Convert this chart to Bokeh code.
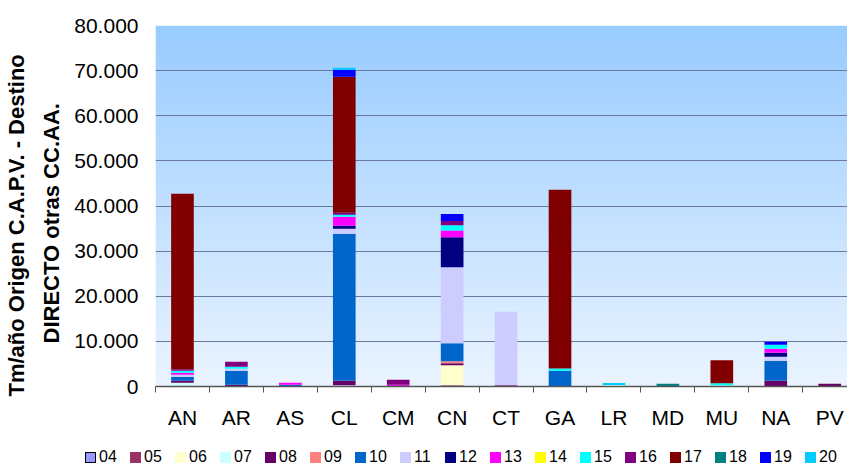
import numpy as np
from bokeh.plotting import figure
from bokeh.layouts import column
from bokeh.models import Range1d, FixedTicker, Title, ColumnDataSource, Div
from bokeh.embed import file_html
from bokeh.resources import INLINE

# ---------------- data ----------------
categories = ["AN", "AR", "AS", "CL", "CM", "CN", "CT", "GA", "LR", "MD", "MU", "NA", "PV"]
series_names = ["04", "05", "06", "07", "08", "09", "10", "11", "12",
                "13", "14", "15", "16", "17", "18", "19", "20"]
#       AN     AR    AS    CL     CM    CN     CT     GA     LR   MD   MU    NA    PV
s04 = [0,     0,    0,    0,     0,    0,     0,     0,     0,   0,   0,    0,    0]
s05 = [0,     0,    0,    0,     0,    300,   0,     0,     0,   0,   0,    0,    0]
s06 = [0,     0,    0,    0,     0,    4430,  0,     0,     0,   0,   0,    0,    0]
s07 = [820,   0,    0,    250,   0,    0,     0,     0,     350, 0,   300,  0,    0]
s08 = [440,   380,  0,    1000,  0,    440,   300,   0,     0,   0,   0,    1260, 600]
s09 = [0,     0,    0,    0,     0,    440,   0,     0,     0,   0,   0,    0,    0]
s10 = [890,   3100, 380,  32590, 0,    3990,  0,     3480,  0,   0,   0,    4430, 0]
s11 = [440,   440,  0,    1110,  0,    16850, 16260, 0,     0,   0,   0,    890,  0]
s12 = [0,     0,    0,    670,   0,    6650,  0,     0,     0,   0,   0,    890,  0]
s13 = [440,   0,    440,  2000,  380,  1480,  0,     0,     0,   0,   0,    890,  0]
s14 = [0,     0,    0,    0,     0,    0,     0,     0,     0,   0,   0,    0,    0]
s15 = [440,   440,  0,    440,   0,    1180,  0,     510,   0,   0,   440,  890,  0]
s16 = [380,   1110, 0,    440,   1110, 890,   0,     0,     0,   0,   0,    0,    0]
s17 = [38880, 0,    0,    30150, 0,    0,     0,     39620, 0,   0,   5100, 0,    0]
s18 = [0,     0,    0,    0,     0,    0,     0,     0,     0,   600, 0,   0,    0]
s19 = [0,     0,    0,    1550,  0,    1550,  0,     0,     0,   0,   0,    670,  0]
s20 = [0,     0,    0,    440,   0,    0,     0,     0,     450, 0,   0,    0,    0]

series_values = [s04, s05, s06, s07, s08, s09, s10, s11, s12,
                 s13, s14, s15, s16, s17, s18, s19, s20]
series_colors = ["#9999FF", "#993366", "#FFFFCC", "#CCFFFF", "#660066", "#FF8080",
                 "#0066CC", "#CCCCFF", "#000080", "#FF00FF", "#FFFF00", "#00FFFF",
                 "#800080", "#800000", "#008080", "#0000FF", "#00CCFF"]

y_ticks = [0, 10000, 20000, 30000, 40000, 50000, 60000, 70000, 80000]
y_tick_labels = ["0", "10.000", "20.000", "30.000", "40.000",
                 "50.000", "60.000", "70.000", "80.000"]
y_title_1 = "Tm/año Origen C.A.P.V. - Destino"
y_title_2 = "DIRECTO otras CC.AA."

# ---------------- main figure ----------------
FONT = "Liberation Sans"
X_END = 12.83
p = figure(width=847, height=440, output_backend="svg", toolbar_location=None,
           title=None, x_range=Range1d(0, X_END), y_range=Range1d(0, 80000),
           min_border_left=155, min_border_right=0, min_border_top=25,
           min_border_bottom=54)
p.outline_line_color = None
p.background_fill_color = None
p.border_fill_color = "white"

# gradient plot-area background
n = 256
t = np.linspace(0.0, 1.0, n)
bot = np.array([234, 244, 255], dtype=float)
top = np.array([153, 204, 255], dtype=float)
rgb = bot + (top - bot) * t[:, None]
img = np.zeros((n, 1), dtype=np.uint32)
view = img.view(dtype=np.uint8).reshape((n, 1, 4))
view[:, 0, 0] = rgb[:, 0].astype(np.uint8)
view[:, 0, 1] = rgb[:, 1].astype(np.uint8)
view[:, 0, 2] = rgb[:, 2].astype(np.uint8)
view[:, 0, 3] = 255
p.image_rgba(image=[img], x=0, y=0, dw=X_END, dh=80000, level="image")

# stacked bars
xc = np.arange(len(categories)) + 0.5
cum = np.zeros(len(categories))
for name, vals, color in zip(series_names, series_values, series_colors):
    v = np.array(vals, dtype=float)
    m = v > 0
    src = ColumnDataSource(dict(x=xc[m], bottom=cum[m], top=(cum + v)[m]))
    p.vbar(x="x", bottom="bottom", top="top", width=0.42, source=src,
           fill_color=color, line_color=None)
    cum = cum + v

# axes
xa = p.xaxis[0]
xa.ticker = FixedTicker(ticks=list(xc), minor_ticks=list(range(0, len(categories) + 1)))
xa.major_label_overrides = {float(x): c for x, c in zip(xc, categories)}
xa.major_tick_line_color = None
xa.major_tick_out = 0
xa.major_tick_in = 0
xa.minor_tick_out = 6
xa.minor_tick_in = 0
xa.minor_tick_line_color = "#555555"
xa.axis_line_color = "#555555"
xa.axis_line_width = 1.5
xa.major_label_text_font = FONT
xa.major_label_text_font_size = "21px"
xa.major_label_text_color = "black"
xa.major_label_standoff = 13

ya = p.yaxis[0]
ya.ticker = FixedTicker(ticks=y_ticks, minor_ticks=[])
ya.major_label_overrides = {v: s for v, s in zip(y_ticks, y_tick_labels)}
ya.axis_line_color = None
ya.major_tick_line_color = None
ya.major_tick_out = 0
ya.major_tick_in = 0
ya.minor_tick_line_color = None
ya.major_label_text_font = FONT
ya.major_label_text_font_size = "21px"
ya.major_label_text_color = "black"
ya.major_label_standoff = 17

p.xgrid.grid_line_color = None
p.ygrid.ticker = FixedTicker(ticks=y_ticks)
p.ygrid.grid_line_color = "#6a78a0"
p.ygrid.grid_line_width = 1

# y axis title (two lines, stacked outward from the axis)
for txt, so, off in ((y_title_2, 16, 43), (y_title_1, 0, -10)):
    p.add_layout(Title(text=txt, align="left", offset=off, standoff=so,
                       text_font=FONT, text_font_style="bold",
                       text_font_size="22px", text_color="black"), "left")

# ---------------- legend strip (HTML, real text) ----------------
entries = []
for name, color in zip(series_names, series_colors):
    border = "border:1.5px solid black;" if name == "04" else ""
    entries.append(
        '<span style="display:inline-flex;align-items:center;width:45px;">'
        f'<span style="display:inline-block;width:11px;height:11px;box-sizing:border-box;'
        f'background:{color};{border}"></span>'
        f'<span style="margin-left:3px;">{name}</span></span>')
legend_html = ('<div style="font-family:\'Liberation Sans\';font-size:16px;line-height:16px;'
               'color:black;padding-left:85px;padding-top:9px;white-space:nowrap;">'
               + "".join(entries) + '</div>')
legend_div = Div(text=legend_html, width=847, height=27, margin=(0, 0, 0, 0))

layout = column(p, legend_div, spacing=0)
open("out.html", "w").write(file_html(layout, INLINE))
